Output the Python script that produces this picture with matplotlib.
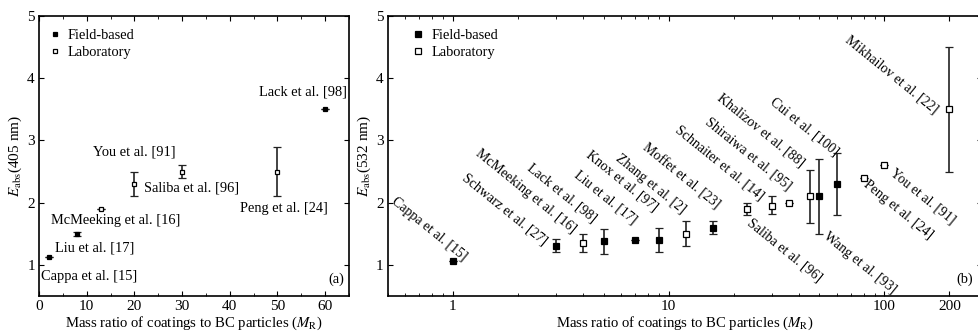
import numpy as np
import matplotlib
matplotlib.use("Agg")
import matplotlib.pyplot as plt
from matplotlib.ticker import MultipleLocator, FixedLocator, FixedFormatter, LogLocator, NullFormatter

plt.rcParams['font.family'] = ['Liberation Serif', 'DejaVu Serif']
plt.rcParams['mathtext.fontset'] = 'stix'
plt.rcParams['font.size'] = 10

#%% panel (a): 405 nm
a_names = ["Cappa et al. [15]", "Liu et al. [17]", "McMeeking et al. [16]", "You et al. [91]",
           "Saliba et al. [96]", "Peng et al. [24]", "Lack et al. [98]"]
a_mr = [2, 8, 13, 20, 30, 50, 60]
a_eabs = [1.13, 1.50, 1.90, 2.30, 2.50, 2.50, 3.50]
a_err = [0.0, 0.03, 0.0, 0.2, 0.1, 0.4, 0.0]
a_field = [True, True, False, False, False, False, True]
# label anchors (left, centre) in data units
a_lab_xy = [(0.4, 0.82), (3.4, 1.27), (2.5, 1.71), (11.3, 2.82), (22.0, 2.24), (42.1, 1.90), (46.1, 3.78)]

#%% panel (b): 532 nm
b_names = ["Cappa et al. [15]", "Schwarz et al. [27]", "McMeeking et al. [16]", "Lack et al. [98]",
           "Liu et al. [17]", "Knox et al. [97]", "Zhang et al. [2]", "Moffet et al. [23]",
           "Saliba et al. [96]", "Schnaiter et al. [14]", "Shiraiwa et al. [95]", "Khalizov et al. [88]",
           "Wang et al. [93]", "Cui et al. [100]", "Peng et al. [24]", "You et al. [91]",
           "Mikhailov et al. [22]"]
b_mr = [1, 3, 4, 5, 7, 9, 12, 16, 23, 30, 36, 45, 50, 60, 80, 100, 200]
b_eabs = [1.06, 1.31, 1.35, 1.38, 1.40, 1.40, 1.50, 1.60, 1.90, 1.95, 2.00, 2.10, 2.10, 2.30, 2.40, 2.60, 3.50]
b_lo = [0.0, 0.10, 0.15, 0.20, 0.0, 0.20, 0.20, 0.10, 0.10, 0.13, 0.0, 0.42, 0.60, 0.50, 0.0, 0.0, 1.0]
b_hi = [0.0, 0.10, 0.15, 0.20, 0.0, 0.20, 0.20, 0.10, 0.10, 0.15, 0.0, 0.42, 0.60, 0.50, 0.0, 0.0, 1.0]
b_field = [True, True, False, True, True, True, False, True, False, False, False, False, True, True,
           False, False, False]
b_lab_xy = [(0.53, 2.05), (1.12, 2.42), (1.30, 2.82), (2.25, 2.58), (3.70, 2.47), (4.24, 2.80),
            (5.77, 2.74), (7.66, 2.90), (23.5, 1.70), (10.9, 3.20), (15.1, 3.33), (17.0, 3.71),
            (53.1, 1.48), (30.1, 3.65), (81.4, 2.31), (108, 2.50), (67, 4.64)]

fig = plt.figure(figsize=(9.79, 3.32), dpi=100)
ax1 = fig.add_axes([39/979, 36/332, 310/979, 280/332])
ax2 = fig.add_axes([387.7/979, 36/332, (982-387.7)/979, 280/332])


def draw(ax, x, y, lo, hi, field, ms):
    x = np.array(x); y = np.array(y); lo = np.array(lo); hi = np.array(hi)
    f = np.array(field)
    for sel, face in [(f, 'black'), (~f, 'white')]:
        ax.errorbar(x[sel], y[sel], yerr=[lo[sel], hi[sel]], fmt='s', ms=ms, mfc=face, mec='black',
                    mew=0.9, ecolor='#222222', elinewidth=1.2, capsize=3, capthick=1.2)


draw(ax1, a_mr, a_eabs, a_err, a_err, a_field, 3.2)
for n, (tx, ty) in zip(a_names, a_lab_xy):
    ax1.text(tx, ty, n, ha='left', va='center', fontsize=10.4)
ax1.set_xlim(0, 65)
ax1.set_ylim(0.5, 5)
ax1.set_xticks([0, 10, 20, 30, 40, 50, 60])
ax1.xaxis.set_minor_locator(MultipleLocator(5))
ax1.yaxis.set_major_locator(MultipleLocator(1))
ax1.set_ylabel(r"$E_{\mathrm{abs}}$(405 nm)", fontsize=11, labelpad=2)
ax1.set_xlabel(r"Mass ratio of coatings to BC particles ($M_{\mathrm{R}}$)", fontsize=10.6, labelpad=1)
ax1.text(0.985, 0.035, "(a)", transform=ax1.transAxes, ha='right', va='bottom', fontsize=10.4)

draw(ax2, b_mr, b_eabs, b_lo, b_hi, b_field, 4)
for n, (tx, ty) in zip(b_names, b_lab_xy):
    ax2.text(tx, ty, n, ha='left', va='center', rotation=-39, rotation_mode='anchor', fontsize=10)
ax2.set_xscale('log')
ax2.set_xlim(0.5, 283)
ax2.set_ylim(0.5, 5)
ax2.xaxis.set_major_locator(FixedLocator([1, 10, 100, 200]))
ax2.xaxis.set_major_formatter(FixedFormatter(["1", "10", "100", "200"]))
ax2.xaxis.set_minor_locator(LogLocator(base=10, subs=np.arange(2, 10)))
ax2.xaxis.set_minor_formatter(NullFormatter())
ax2.yaxis.set_major_locator(MultipleLocator(1))
ax2.set_ylabel(r"$E_{\mathrm{abs}}$(532 nm)", fontsize=11, labelpad=2)
ax2.set_xlabel(r"Mass ratio of coatings to BC particles ($M_{\mathrm{R}}$)", fontsize=10.6, labelpad=1)
ax2.text(0.985, 0.035, "(b)", transform=ax2.transAxes, ha='right', va='bottom', fontsize=10.4)

for ax in (ax1, ax2):
    ax.tick_params(which='both', direction='in', top=True, right=True, labelsize=11, pad=3)
    ax.tick_params(which='major', length=3.5)
    ax.tick_params(which='minor', length=2)
    for s in ax.spines.values():
        s.set_linewidth(1.2)

# legend handles without error bars
for ax, ms, anc in ((ax1, 3.2, (-0.01, 1.0)), (ax2, 4, (0.02, 1.0))):
    h = [plt.Line2D([], [], ls='', marker='s', ms=ms, mfc=c, mec='black', mew=0.9) for c in ('black', 'white')]
    ax.legend(h, ['Field-based', 'Laboratory'], loc='upper left', frameon=False, handlelength=0.8,
              handletextpad=0.5, labelspacing=0.25, fontsize=10.4, bbox_to_anchor=anc)

fig.savefig("out.png", dpi=100)
